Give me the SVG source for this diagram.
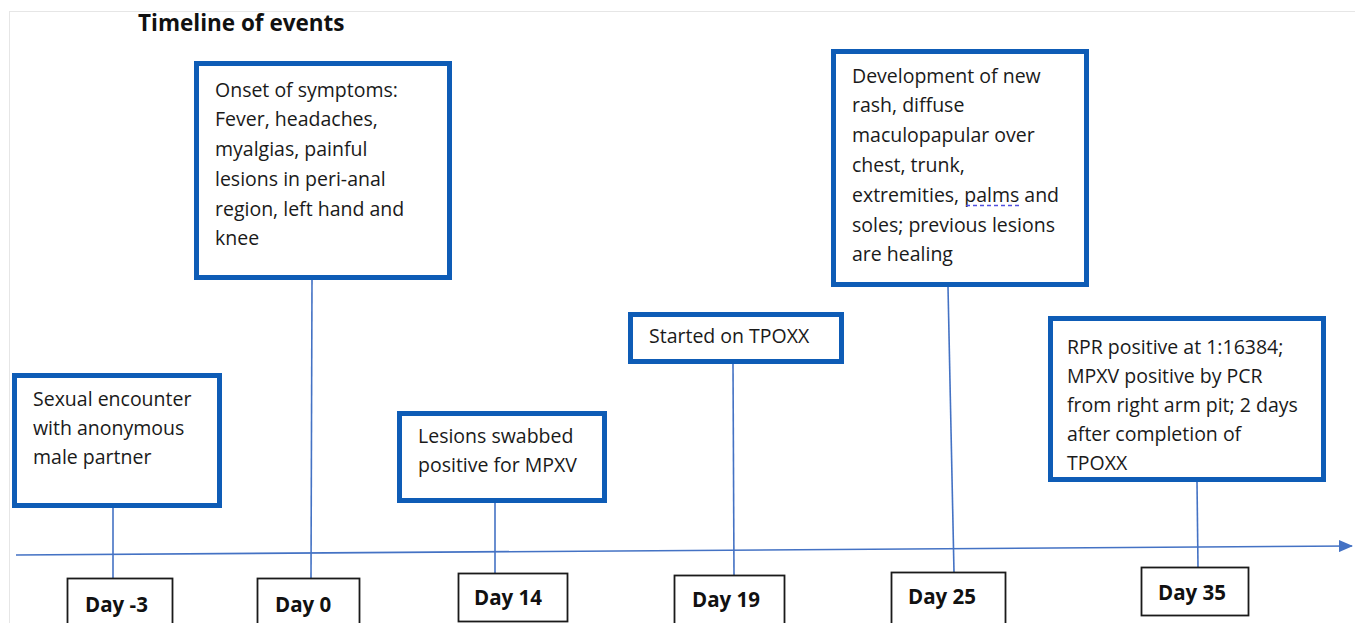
<svg xmlns="http://www.w3.org/2000/svg" width="1355" height="623" viewBox="0 0 1355 623">
<defs>
<style>
.bg{fill:#fff}
.frame{fill:none;stroke:#e6e6e6;stroke-width:1}
.ev{fill:#fff;stroke:#0E5CB6;stroke-width:5}
.day{fill:#fff;stroke:#1a1a1a;stroke-width:1.8}
.t{font-family:"Open Sans","Noto Sans",sans-serif;font-size:19.5px;fill:#1a1a1a}
.d{font-family:"Open Sans","Noto Sans",sans-serif;font-size:20.5px;font-weight:bold;fill:#111}
.title{font-family:"Open Sans","Noto Sans",sans-serif;font-size:22.5px;font-weight:bold;fill:#111}
.c{stroke:#4472C4;stroke-width:1.6;fill:none}
</style>
<marker id="arr" markerWidth="14" markerHeight="12" refX="13" refY="6" orient="auto" markerUnits="userSpaceOnUse">
<path d="M0,0 L14,6 L0,12 z" fill="#4472C4"/>
</marker>
</defs>
<rect class="bg" x="0" y="0" width="1355" height="623"/>
<rect class="frame" x="9.5" y="11.5" width="1360" height="620"/>
<text class="title" x="138" y="31">Timeline of events</text>

<g id="connectors">
<line class="c" x1="16" y1="555" x2="1352" y2="546" marker-end="url(#arr)"/>
<line class="c" x1="113" y1="508" x2="113" y2="578"/>
<line class="c" x1="312" y1="280" x2="311" y2="578"/>
<line class="c" x1="495" y1="503" x2="495" y2="573"/>
<line class="c" x1="733" y1="364" x2="734" y2="575"/>
<line class="c" x1="948" y1="287" x2="954" y2="572"/>
<line class="c" x1="1197" y1="482" x2="1198" y2="567"/>
</g>

<g id="ev-day-3">
<rect class="ev" x="14.5" y="375.5" width="205" height="130"/>
<text class="t" x="33" y="406">Sexual encounter</text>
<text class="t" x="33" y="435">with anonymous</text>
<text class="t" x="33" y="464">male partner</text>
</g>

<g id="ev-day0">
<rect class="ev" x="196.5" y="63.5" width="253" height="214"/>
<text class="t" x="215" y="97">Onset of symptoms:</text>
<text class="t" x="215" y="126">Fever, headaches,</text>
<text class="t" x="215" y="156">myalgias, painful</text>
<text class="t" x="215" y="186">lesions in peri-anal</text>
<text class="t" x="215" y="216">region, left hand and</text>
<text class="t" x="215" y="245">knee</text>
</g>

<g id="ev-day14">
<rect class="ev" x="399.5" y="413.5" width="205" height="87"/>
<text class="t" x="418" y="443">Lesions swabbed</text>
<text class="t" x="418" y="472">positive for MPXV</text>
</g>

<g id="ev-day19">
<rect class="ev" x="630.5" y="314.5" width="211" height="47"/>
<text class="t" x="649" y="343">Started on TPOXX</text>
</g>

<g id="ev-day25">
<rect class="ev" x="833.5" y="51.5" width="253" height="233"/>
<text class="t" x="852" y="83">Development of new</text>
<text class="t" x="852" y="112">rash, diffuse</text>
<text class="t" x="852" y="142">maculopapular over</text>
<text class="t" x="852" y="172">chest, trunk,</text>
<text class="t" x="852" y="202">extremities, palms and</text>
<text class="t" x="852" y="232">soles; previous lesions</text>
<text class="t" x="852" y="261">are healing</text>
<line x1="966" y1="205.5" x2="1020" y2="205.5" stroke="#5050E0" stroke-width="1.4" stroke-dasharray="4,3"/>
</g>

<g id="ev-day35">
<rect class="ev" x="1050.5" y="318.5" width="273" height="161"/>
<text class="t" x="1067" y="354">RPR positive at 1:16384;</text>
<text class="t" x="1067" y="383">MPXV positive by PCR</text>
<text class="t" x="1067" y="412">from right arm pit; 2 days</text>
<text class="t" x="1067" y="441">after completion of</text>
<text class="t" x="1067" y="470">TPOXX</text>
</g>

<g id="day-3"><rect class="day" x="67.5" y="578.5" width="105" height="50"/><text class="d" x="85" y="612">Day -3</text></g>
<g id="day0"><rect class="day" x="257.5" y="578.5" width="102" height="50"/><text class="d" x="275" y="612">Day 0</text></g>
<g id="day14"><rect class="day" x="458.5" y="573.5" width="109" height="48"/><text class="d" x="474" y="605">Day 14</text></g>
<g id="day19"><rect class="day" x="674.5" y="575.5" width="110" height="50"/><text class="d" x="692" y="607">Day 19</text></g>
<g id="day25"><rect class="day" x="891.5" y="572.5" width="114" height="55"/><text class="d" x="908" y="604">Day 25</text></g>
<g id="day35"><rect class="day" x="1141.5" y="567.5" width="107" height="48"/><text class="d" x="1158" y="600">Day 35</text></g>
</svg>
